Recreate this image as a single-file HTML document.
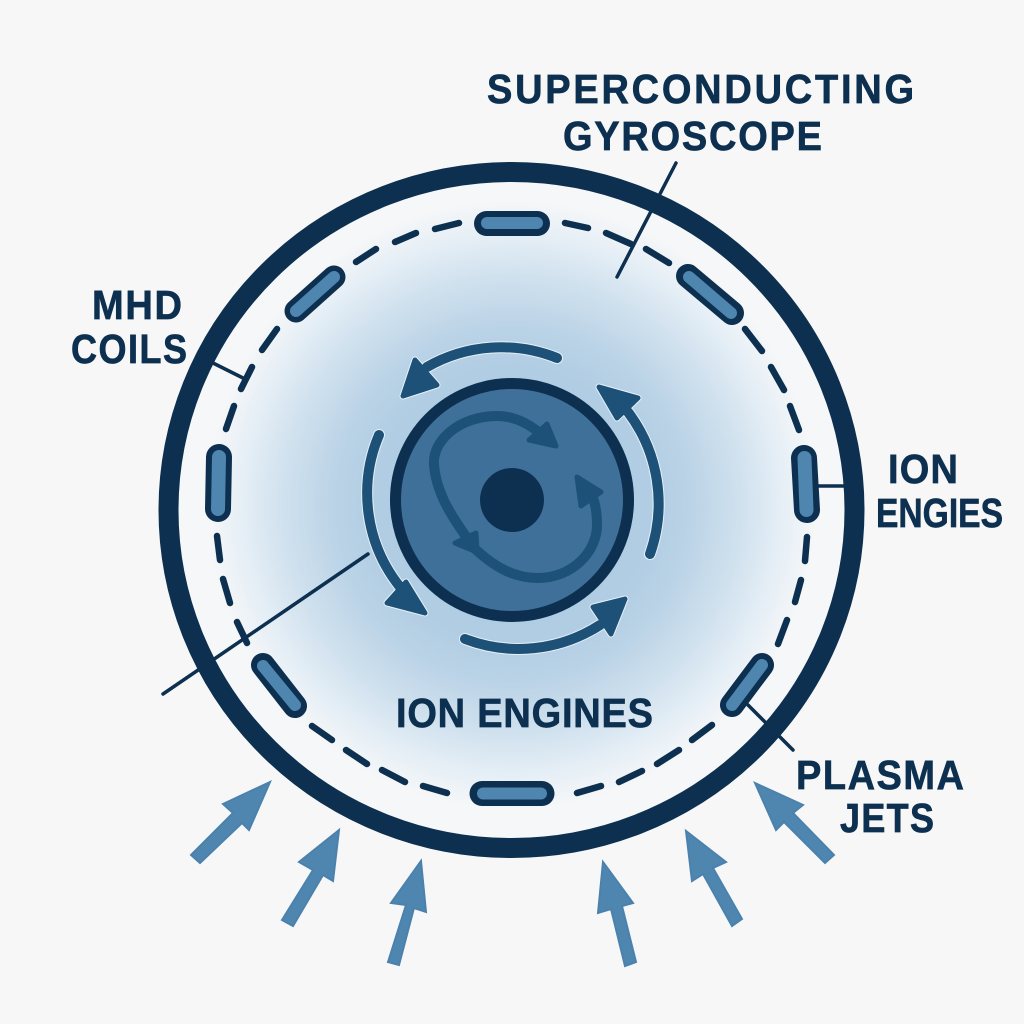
<!DOCTYPE html>
<html>
<head>
<meta charset="utf-8">
<title>Spacecraft diagram</title>
<style>
html,body{margin:0;padding:0;background:#f7f7f7;width:1024px;height:1024px;overflow:hidden}
svg{display:block}
text{font-family:"Liberation Sans",sans-serif;font-weight:700;fill:#0d3050;font-size:38px;stroke:#0d3050;stroke-width:0.6}
.dash line{stroke:#0d3050;stroke-width:6.5;stroke-linecap:round}
.lead line{stroke:#0d3050;stroke-width:3.5;stroke-linecap:round}
.jet polygon{fill:#4f86b0;stroke:#4a82ad;stroke-width:2}
.cap-o{stroke:#0d3050;stroke-linecap:round;stroke-width:25}
.cap-i{stroke:#4f86b0;stroke-linecap:round;stroke-width:12}
.sw{fill:none;stroke:#1d5178;stroke-width:10;stroke-linecap:round}
.halo{fill:none;stroke:#e6f0f7;stroke-width:12;stroke-linecap:round}
.hd{fill:#1d5178;stroke:#1d5178;stroke-width:5;stroke-linejoin:round}
.hdh{fill:#e6f0f7;stroke:#e6f0f7;stroke-width:7;stroke-linejoin:round}
</style>
</head>
<body>
<svg width="1024" height="1024" viewBox="0 0 1024 1024" xmlns="http://www.w3.org/2000/svg">
<defs>
<radialGradient id="glow" gradientUnits="userSpaceOnUse" cx="0" cy="0" r="1" gradientTransform="translate(512 505) scale(305 305)">
<stop offset="0" stop-color="#adcae1"/>
<stop offset="0.45" stop-color="#b1cde3"/>
<stop offset="0.57" stop-color="#b9d2e6"/>
<stop offset="0.75" stop-color="#d0e1ee"/>
<stop offset="0.89" stop-color="#e6eff6"/>
<stop offset="1" stop-color="#f6f7f8"/>
</radialGradient>
</defs>

<rect x="0" y="0" width="1024" height="1024" fill="#f7f7f7"/>
<ellipse cx="512" cy="510" rx="340" ry="335" fill="url(#glow)"/>

<g class="lead">
<line x1="676" y1="163" x2="617" y2="277"/>
<line x1="213" y1="363" x2="243" y2="378"/>
<line x1="368" y1="554" x2="163" y2="694"/>
<line x1="818" y1="486" x2="844" y2="486"/>
<line x1="748" y1="705" x2="793" y2="750"/>
</g>

<ellipse cx="511.5" cy="510" rx="343" ry="338" fill="none" stroke="#0d3050" stroke-width="20"/>

<g class="dash">
<line x1="277" y1="329" x2="262" y2="350"/>
<line x1="252" y1="367" x2="241" y2="389"/>
<line x1="234" y1="406" x2="226" y2="429"/>
<line x1="217" y1="536" x2="220" y2="560"/>
<line x1="223" y1="579" x2="230" y2="603"/>
<line x1="237" y1="622" x2="247" y2="643"/>
<line x1="356" y1="262" x2="376" y2="249"/>
<line x1="395" y1="242" x2="416" y2="233"/>
<line x1="435" y1="229" x2="459" y2="223"/>
<line x1="565" y1="223" x2="588" y2="228"/>
<line x1="606" y1="233" x2="631" y2="244"/>
<line x1="646" y1="249" x2="669" y2="263"/>
<line x1="745" y1="329" x2="762" y2="351"/>
<line x1="771" y1="367" x2="784" y2="390"/>
<line x1="790" y1="406" x2="799" y2="430"/>
<line x1="807" y1="537" x2="805" y2="561"/>
<line x1="801" y1="580" x2="795" y2="602"/>
<line x1="787" y1="620" x2="778" y2="644"/>
<line x1="712" y1="725" x2="692" y2="740"/>
<line x1="679" y1="750" x2="657" y2="764"/>
<line x1="642" y1="771" x2="619" y2="782"/>
<line x1="601" y1="786" x2="577" y2="793"/>
<line x1="312" y1="726" x2="332" y2="740"/>
<line x1="346" y1="750" x2="367" y2="764"/>
<line x1="382" y1="770" x2="405" y2="782"/>
<line x1="423" y1="786" x2="447" y2="793"/>
</g>

<g>
<line class="cap-o" x1="486.5" y1="223.5" x2="537.5" y2="223.5"/><line class="cap-i" x1="487" y1="223" x2="537" y2="223"/>
</g>
<g>
<line class="cap-o" style="stroke-width:23" x1="296" y1="311" x2="334" y2="277"/><line class="cap-i" x1="296" y1="311" x2="334" y2="277"/>
</g>
<g>
<line class="cap-o" style="stroke-width:24" x1="688" y1="276" x2="732" y2="313"/><line class="cap-i" x1="689" y1="277" x2="731" y2="313"/>
</g>
<g>
<line class="cap-o" style="stroke-width:26" x1="804" y1="458" x2="807" y2="510"/><line class="cap-i" style="stroke-width:14" x1="804.5" y1="458" x2="806.5" y2="510"/>
</g>
<g>
<line class="cap-o" style="stroke-width:24" x1="762" y1="665" x2="732" y2="705"/><line class="cap-i" x1="762" y1="665" x2="732" y2="705"/>
</g>
<g>
<line class="cap-o" x1="482" y1="793.5" x2="542" y2="793.5"/><line class="cap-i" x1="483" y1="793.5" x2="541" y2="793.5"/>
</g>
<g>
<line class="cap-o" style="stroke-width:24" x1="263" y1="665" x2="295" y2="706"/><line class="cap-i" x1="263" y1="666" x2="295" y2="705"/>
</g>
<g>
<line class="cap-o" style="stroke-width:26" x1="219" y1="457" x2="218" y2="509"/><line class="cap-i" style="stroke-width:14" x1="219" y1="457" x2="218" y2="509"/>
</g>

<g>
<path class="halo" d="M557,358 A150,150 0 0 0 427,367"/>
<path class="halo" d="M650,554 A152,152 0 0 0 628,412"/>
<path class="halo" d="M465,639 A150,150 0 0 0 600,625"/>
<path class="halo" d="M379,435 A150,150 0 0 0 400,587"/>
<polygon class="hdh" points="403,396 415,360 437,385"/>
<polygon class="hdh" points="599,387 638,398 617,418"/>
<polygon class="hdh" points="625,599 593,607 611,634"/>
<polygon class="hdh" points="425,613 387,603 406,582"/>
<path class="sw" d="M557,358 A150,150 0 0 0 427,367"/>
<path class="sw" d="M650,554 A152,152 0 0 0 628,412"/>
<path class="sw" d="M465,639 A150,150 0 0 0 600,625"/>
<path class="sw" d="M379,435 A150,150 0 0 0 400,587"/>
<polygon class="hd" points="403,396 415,360 437,385"/>
<polygon class="hd" points="599,387 638,398 617,418"/>
<polygon class="hd" points="625,599 593,607 611,634"/>
<polygon class="hd" points="425,613 387,603 406,582"/>
</g>

<circle cx="512" cy="500" r="116.5" fill="#3f7099" stroke="#0d3050" stroke-width="11"/>

<g>
<path class="sw" d="M470,542 C448,512 436,490 434,465 C432,440 460,416 497,416 C515,416 530,424 543,436"/>
<polygon class="hd" points="556,446 547,424 529,440"/>
<path class="sw" d="M473,547 C492,565 512,578 538,578 C572,578 597,552 597,525 C597,515 596,505 592,495"/>
<polygon class="hd" points="577,477 601,492 581,506"/>
<polygon class="hd" points="455,543 476,533 477,552"/>
</g>

<circle cx="512" cy="500" r="32" fill="#0d3050"/>

<g class="jet">
<polygon points="270,782 223,804 233,813 191,855 200,863 242,823 249,830"/>
<polygon points="339,830 299,862 313,870 282,920 293,926 323,875 333,881"/>
<polygon points="421,861 391,903 406,905 388,962 399,965 414,908 426,912"/>
<polygon points="603,862 598,913 611,909 625,966 636,962 622,906 633,903"/>
<polygon points="686,831 692,881 703,874 732,926 742,919 713,868 726,862"/>
<polygon points="755,783 776,830 784,822 825,863 834,855 793,813 803,805"/>
</g>

<text transform="translate(487 103) scale(1 1.08)" textLength="427" lengthAdjust="spacing">SUPERCONDUCTING</text>
<text transform="translate(563 150) scale(1 1.08)" textLength="259" lengthAdjust="spacing">GYROSCOPE</text>
<text transform="translate(92 319) scale(1 1.08)" textLength="90" lengthAdjust="spacing">MHD</text>
<text transform="translate(71 363) scale(1 1.14)" style="font-size:36px" textLength="116" lengthAdjust="spacing">COILS</text>
<text transform="translate(888 483) scale(1 1.08)" textLength="70" lengthAdjust="spacing">ION</text>
<text transform="translate(876 527) scale(1 1.08)" textLength="127" lengthAdjust="spacingAndGlyphs">ENGIES</text>
<text transform="translate(796 789) scale(1 1.08)" textLength="168" lengthAdjust="spacing">PLASMA</text>
<text transform="translate(840 832) scale(1 1.14)" style="font-size:36px" textLength="94" lengthAdjust="spacing">JETS</text>
<text transform="translate(396 727) scale(1 1.08)" textLength="257" lengthAdjust="spacing">ION ENGINES</text>
</svg>
</body>
</html>
